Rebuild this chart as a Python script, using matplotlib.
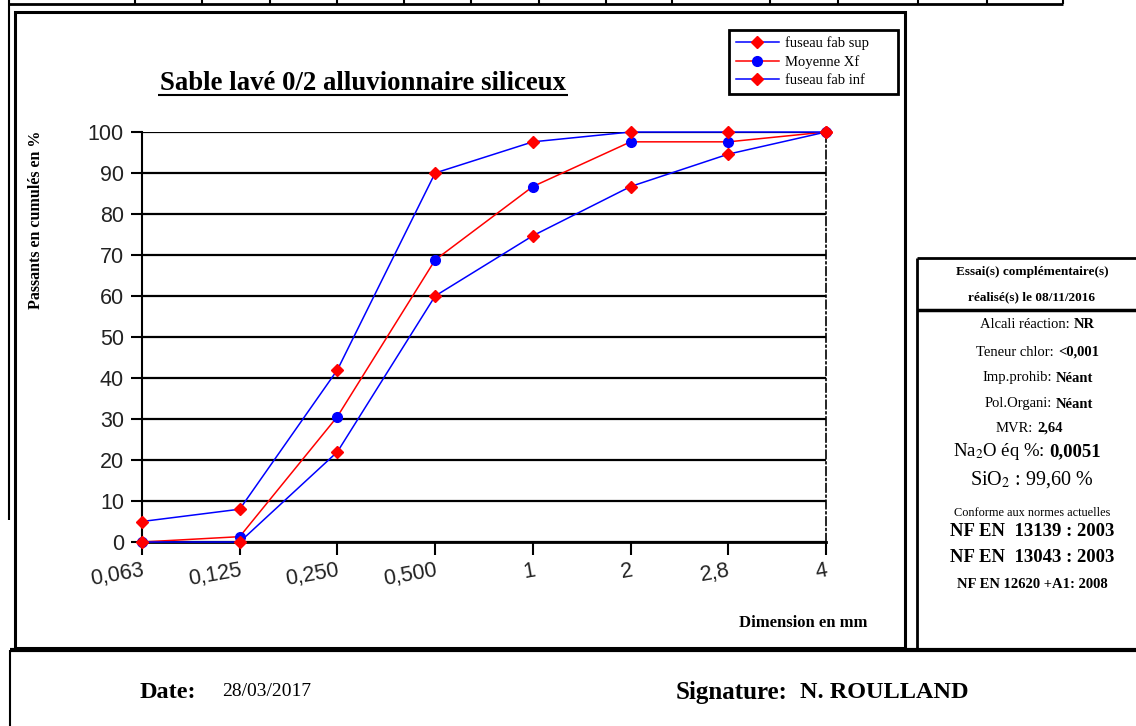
import matplotlib.pyplot as plt
from matplotlib.patches import Rectangle

# Données de la courbe granulométrique (passants cumulés en %)
tamis = ['0,063', '0,125', '0,250', '0,500', '1', '2', '2,8', '4']
fuseau_sup = [5, 8, 42, 90, 97.6, 100, 100, 100]
moyenne_xf = [0, 1.3, 30.6, 68.8, 86.7, 97.6, 97.6, 100]
fuseau_inf = [0, 0, 22, 60, 74.7, 86.7, 94.6, 100]

W, H = 1136, 726
serif = 'Liberation Serif'
sans = 'Liberation Sans'

fig = plt.figure(figsize=(W / 100, H / 100), dpi=100)

# Fond en pixels pour les cadres et les textes du formulaire
bg = fig.add_axes([0, 0, 1, 1])
bg.set_xlim(0, W)
bg.set_ylim(H, 0)
bg.axis('off')


def trait(xs, ys, lw=1.5):
    bg.plot(xs, ys, color='black', lw=lw, solid_capstyle='butt')


# Tableau en haut de page
trait([9, 1063], [4, 4], 2)
for xv in [135, 202, 270, 337, 404, 471, 539, 606, 672, 770, 838, 918, 987, 1063]:
    trait([xv, xv], [0, 4], 1.5)
trait([9, 9], [0, 520], 1.5)

# Cadre du graphique
bg.add_patch(Rectangle((15, 12), 890, 636, fill=False, ec='black', lw=2.2))

# Cadre des essais complémentaires
trait([917, 1136], [258, 258], 2)
trait([917, 917], [258, 649], 2)
trait([917, 1136], [310, 310], 2.5)

# Cadre du bas (date / signature)
trait([10, 1136], [650, 650], 3)
trait([10, 10], [650, 726], 1.5)

# Titre souligné
bg.text(363, 90, 'Sable lavé 0/2 alluvionnaire siliceux', family=serif,
        fontsize=19.3, fontweight='bold', ha='center', va='baseline')
trait([158, 568], [95, 95], 1.5)

bg.text(36, 220, 'Passants en cumulés en %', family=serif, fontsize=11.5,
        fontweight='bold', rotation=90, ha='center', va='center')
bg.text(803, 623, 'Dimension en mm', family=serif, fontsize=12,
        fontweight='bold', ha='center', va='center')

# Texte des essais complémentaires
cx = 1032
bg.text(cx, 272, 'Essai(s) complémentaire(s)', family=serif, fontsize=9.5,
        fontweight='bold', ha='center', va='center')
bg.text(cx, 297, 'réalisé(s) le 08/11/2016', family=serif, fontsize=9.5,
        fontweight='bold', ha='center', va='center')

lignes = [
    (325, 'Alcali réaction:', 'NR', 1070),
    (352, 'Teneur chlor:', '<0,001', 1054),
    (378, 'Imp.prohib:', 'Néant', 1052),
    (404, 'Pol.Organi:', 'Néant', 1052),
    (428, 'MVR:', '2,64', 1033),
]
for yv, txt, val, xs in lignes:
    bg.text(xs, yv, txt, family=serif, fontsize=10.5, ha='right', va='center')
    bg.text(xs + 4, yv, val, family=serif, fontsize=10.5, fontweight='bold',
            ha='left', va='center')

bg.text(1045, 452, 'Na$_2$O éq %:', family=serif, fontsize=13.5, ha='right',
        va='center', math_fontfamily='stix')
bg.text(1049, 452, '0,0051', family=serif, fontsize=13.5, fontweight='bold',
        ha='left', va='center')
bg.text(cx, 480, 'SiO$_2$ : 99,60 %', family=serif, fontsize=14.5,
        ha='center', va='center', math_fontfamily='stix')
bg.text(cx, 513, 'Conforme aux normes actuelles', family=serif, fontsize=8.8,
        ha='center', va='center')
bg.text(cx, 532, 'NF EN  13139 : 2003', family=serif, fontsize=13.5,
        fontweight='bold', ha='center', va='center')
bg.text(cx, 558, 'NF EN  13043 : 2003', family=serif, fontsize=13.5,
        fontweight='bold', ha='center', va='center')
bg.text(cx, 584, 'NF EN 12620 +A1: 2008', family=serif, fontsize=10.5,
        fontweight='bold', ha='center', va='center')

# Date et signature
bg.text(140, 692, 'Date:', family=serif, fontsize=17.5, fontweight='bold',
        ha='left', va='center')
bg.text(222, 692, '28/03/2017', family=serif, fontsize=14, ha='left', va='center')
bg.text(676, 692, 'Signature:', family=serif, fontsize=18, fontweight='bold',
        ha='left', va='center')
bg.text(800, 692, 'N. ROULLAND', family=serif, fontsize=17.5, fontweight='bold',
        ha='left', va='center')

# Zone de tracé
ax = fig.add_axes([142 / W, 1 - 542 / H, (826 - 142) / W, (542 - 132) / H])
ax.patch.set_alpha(0)
x = range(len(tamis))

l1, = ax.plot(x, fuseau_sup, color='blue', lw=1.1, marker='D', ms=6,
              mfc='red', mec='red', clip_on=False, zorder=4)
l2, = ax.plot(x, moyenne_xf, color='red', lw=1.1, marker='o', ms=7,
              mfc='blue', mec='blue', clip_on=False, zorder=3)
l3, = ax.plot(x, fuseau_inf, color='blue', lw=1.1, marker='D', ms=6,
              mfc='red', mec='red', clip_on=False, zorder=4)

ax.set_xlim(0, len(tamis) - 1)
ax.set_ylim(0, 100)
ax.set_yticks(range(0, 101, 10))
ax.set_xticks(list(x))
ax.set_xticklabels(tamis, rotation=10, ha='right', rotation_mode='anchor')
ax.yaxis.grid(True, color='black', lw=1.6)
ax.set_axisbelow(True)
for lab in ax.get_xticklabels() + ax.get_yticklabels():
    lab.set_family(sans)
    lab.set_fontsize(15.5)
    lab.set_color('#222222')
ax.tick_params(axis='y', length=8, width=1.5, pad=5, direction='out')
ax.tick_params(axis='x', length=9, width=1.5, pad=4, direction='out')
ax.spines['top'].set_visible(False)
ax.spines['right'].set_linestyle((0, (5, 2, 1, 2)))
ax.spines['right'].set_linewidth(1.2)
ax.spines['left'].set_linewidth(1.5)
ax.spines['bottom'].set_linewidth(2)

# Légende
leg = fig.legend([l1, l2, l3], ['fuseau fab sup', 'Moyenne Xf', 'fuseau fab inf'],
                 loc='upper left', bbox_to_anchor=(729 / W, 1 - 92 / H, 169 / W, 62 / H),
                 mode='expand', prop={'family': serif, 'size': 10.5},
                 fancybox=False, edgecolor='black', framealpha=1,
                 handlelength=3.0, handletextpad=0.4, borderpad=0.45,
                 labelspacing=0.33, borderaxespad=0)
leg.get_frame().set_linewidth(2)

plt.savefig('out.png', dpi=100)
